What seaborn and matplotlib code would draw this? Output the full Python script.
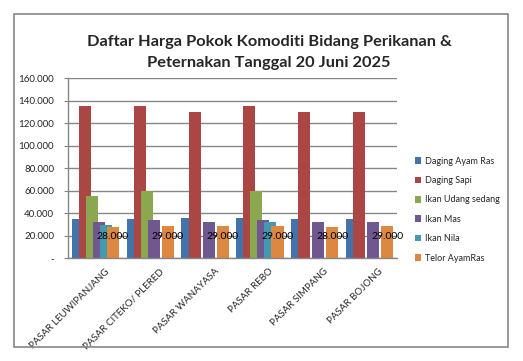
import numpy as np
import pandas as pd
import matplotlib
matplotlib.use("Agg")
import matplotlib.pyplot as plt
import seaborn as sns
from matplotlib.patches import Rectangle
from matplotlib.ticker import FuncFormatter
from matplotlib.transforms import ScaledTranslation

markets = ["PASAR LEUWIPANJANG", "PASAR CITEKO/ PLERED", "PASAR WANAYASA",
           "PASAR REBO", "PASAR SIMPANG", "PASAR BOJONG"]
series = ["Daging Ayam Ras", "Daging Sapi", "Ikan Udang sedang",
          "Ikan Mas", "Ikan Nila", "Telor AyamRas"]
daging_ayam_ras = [35000, 35000, 36000, 36000, 35000, 35000]
daging_sapi = [135000, 135000, 130000, 135000, 130000, 130000]
ikan_udang = [55000, 60000, np.nan, 60000, np.nan, np.nan]
ikan_mas = [32000, 34000, 32000, 34000, 32000, 32000]
ikan_nila = [30000, np.nan, np.nan, 32000, np.nan, np.nan]
telor = [28000, 29000, 29000, 29000, 28000, 29000]
colors = ["#4472AA", "#AA4644", "#8BA750", "#71578F", "#4399B0", "#DC8742"]

values = [daging_ayam_ras, daging_sapi, ikan_udang, ikan_mas, ikan_nila, telor]
df = pd.DataFrame({
    "pasar": [m for _ in series for m in markets],
    "komoditas": [s for s in series for _ in markets],
    "harga": [v for vals in values for v in vals],
})

sns.set_style("white")
plt.rcParams["font.family"] = ["Lato", "DejaVu Sans"]

fig = plt.figure(figsize=(5.23, 3.61), dpi=100)
fig.patches.append(Rectangle((14 / 523, 1 - 347 / 361), (508 - 14) / 523, (347 - 13.5) / 361,
                             transform=fig.transFigure, fill=False, edgecolor="#868686",
                             linewidth=1.2))
ax = fig.add_axes([68 / 523, 1 - 258.3 / 361, (397 - 68) / 523, (258.3 - 78.3) / 361])

sns.barplot(data=df, x="pasar", y="harga", hue="komoditas", order=markets,
            hue_order=series, palette=colors, width=0.77, gap=-0.71,
            dodge=True, saturation=1, errorbar=None, ax=ax, linewidth=0)

# data labels for Telor AyamRas
telor_container = ax.containers[-1]
ax.bar_label(telor_container, labels=[f"{v:,.0f}".replace(",", ".") for v in telor],
             label_type="center", fontsize=7.5, color="black", padding=4)

ax.set_ylim(0, 160000)
ax.set_yticks(np.arange(0, 160001, 20000))
ax.yaxis.set_major_formatter(FuncFormatter(
    lambda v, p: "-" if v == 0 else f"{v:,.0f}".replace(",", ".")))
ax.set_xlim(-0.5, 5.5)
ax.grid(axis="y", color="#868686", linewidth=1)
ax.set_axisbelow(True)
for s in ["top", "right"]:
    ax.spines[s].set_visible(False)
for s in ["left", "bottom"]:
    ax.spines[s].set_color("#868686")
    ax.spines[s].set_linewidth(1)
ax.tick_params(axis="y", labelsize=7, length=3, color="#868686", left=True, pad=7)
ax.tick_params(axis="x", labelsize=7, length=0, pad=4)
ax.set_xlabel("")
ax.set_ylabel("")
offset = ScaledTranslation(9 / 100, -3 / 100, fig.dpi_scale_trans)
for lab in ax.get_xticklabels():
    lab.set_rotation(45)
    lab.set_ha("right")
    lab.set_va("top")
    lab.set_rotation_mode("anchor")
    lab.set_transform(lab.get_transform() + offset)

leg = ax.legend(loc="upper left", bbox_to_anchor=(411 / 523, 1 - 153 / 361),
                bbox_transform=fig.transFigure, frameon=False, fontsize=6.5,
                handlelength=0.75, handleheight=0.75, handletextpad=0.4,
                labelspacing=1.15, borderaxespad=0)

fig.text(269 / 523, 1 - 42 / 361, "Daftar Harga Pokok Komoditi Bidang Perikanan &",
         ha="center", va="center", fontsize=11.8, fontweight="bold")
fig.text(269 / 523, 1 - 63 / 361, "Peternakan Tanggal 20 Juni 2025",
         ha="center", va="center", fontsize=11.8, fontweight="bold")

fig.savefig("out.png", dpi=100)
